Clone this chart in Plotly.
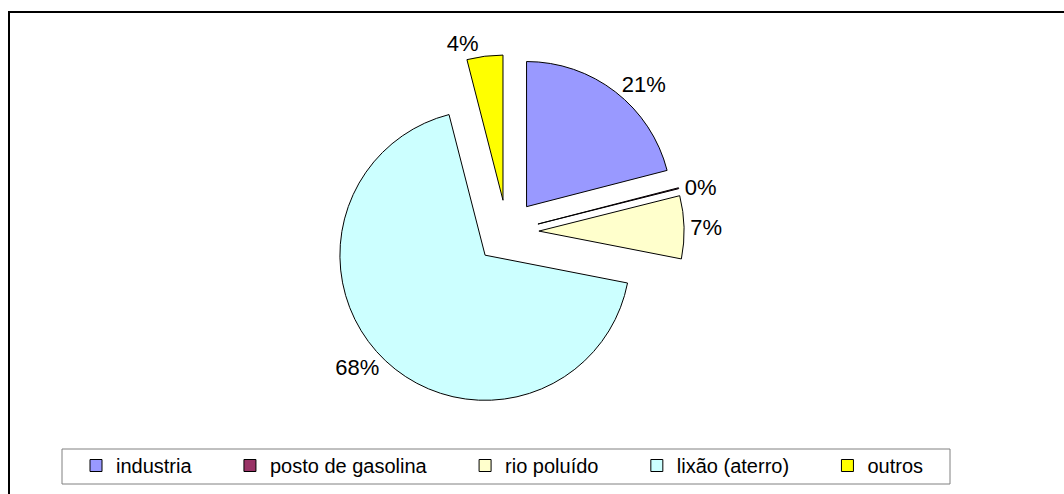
import plotly.graph_objects as go

labels = ["industria", "posto de gasolina", "rio poluído", "lixão (aterro)", "outros"]
values = [21, 0.1, 7, 68, 4]
colors = ["#9999FF", "#993366", "#FFFFCC", "#CCFFFF", "#FFFF00"]

pad = "\u00a0" * 6
legend_names = [l + pad for l in labels[:-1]] + [labels[-1]]

fig = go.Figure(go.Pie(
    labels=legend_names,
    values=values,
    sort=False,
    direction="clockwise",
    rotation=0,
    pull=[0.22] * len(values),
    marker=dict(colors=colors, line=dict(color="black", width=1)),
    texttemplate="%{percent:.0%}",
    textposition="outside",
    textfont=dict(size=22, color="black", family="Liberation Sans, Arial, sans-serif"),
    domain=dict(x=[0.310, 0.643], y=[0.172, 0.889]),
    hoverinfo="label+percent",
))

fig.update_layout(
    width=1064, height=494,
    margin=dict(l=0, r=0, t=0, b=0, autoexpand=False),
    paper_bgcolor="white",
    plot_bgcolor="white",
    font=dict(family="Liberation Sans, Arial, sans-serif", size=20, color="black"),
    showlegend=True,
    legend=dict(
        orientation="h",
        x=76 / 1064, xanchor="left",
        y=1 - 446 / 494, yanchor="top",
        borderwidth=0,
        bgcolor="rgba(0,0,0,0)",
        font=dict(size=20, color="black"),
    ),
    shapes=[
        dict(
            type="rect", xref="paper", yref="paper",
            x0=9 / 1064, x1=1.02, y0=-0.02, y1=1 - 12 / 494,
            line=dict(color="black", width=2), layer="below",
        ),
        dict(
            type="rect", xref="paper", yref="paper",
            x0=62 / 1064, x1=950 / 1064, y0=1 - 484 / 494, y1=1 - 449 / 494,
            line=dict(color="#808080", width=1), fillcolor="white", layer="below",
        ),
    ],
)

fig.write_html(
    "out.html",
    config={"displayModeBar": False},
    post_script="document.body.style.margin='0';document.body.style.padding='0';",
)
